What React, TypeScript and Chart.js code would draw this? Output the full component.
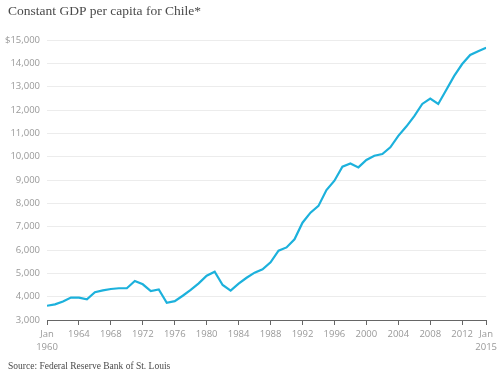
import React, { useEffect, useRef } from "react";
import { Chart, registerables } from "chart.js";

Chart.register(...registerables);

const years: number[] = [
  1960, 1961, 1962, 1963, 1964, 1965, 1966, 1967, 1968, 1969,
  1970, 1971, 1972, 1973, 1974, 1975, 1976, 1977, 1978, 1979,
  1980, 1981, 1982, 1983, 1984, 1985, 1986, 1987, 1988, 1989,
  1990, 1991, 1992, 1993, 1994, 1995, 1996, 1997, 1998, 1999,
  2000, 2001, 2002, 2003, 2004, 2005, 2006, 2007, 2008, 2009,
  2010, 2011, 2012, 2013, 2014, 2015,
];

const gdpPerCapita: number[] = [
  3610, 3670, 3790, 3960, 3960, 3890, 4190, 4270, 4330, 4360,
  4360, 4670, 4530, 4240, 4310, 3740, 3810, 4040, 4290, 4570,
  4900, 5070, 4500, 4260, 4560, 4810, 5030, 5170, 5470, 5970,
  6110, 6460, 7170, 7600, 7890, 8570, 8970, 9570, 9710, 9540,
  9860, 10040, 10110, 10400, 10890, 11290, 11740, 12260, 12490, 12260,
  12860, 13460, 13970, 14360, 14520, 14670,
];

const xTickYears: number[] = [1960, 1964, 1968, 1972, 1976, 1980, 1984, 1988, 1992, 1996, 2000, 2004, 2008, 2012, 2015];
const yTickValues: number[] = [3000, 4000, 5000, 6000, 7000, 8000, 9000, 10000, 11000, 12000, 13000, 14000, 15000];

const titleText = "Constant GDP per capita for Chile*";
const sourceText = "Source: Federal Reserve Bank of St. Louis";

export default function App() {
  const ref = useRef<HTMLCanvasElement | null>(null);

  useEffect(() => {
    if (!ref.current) return;
    const textPlugin = {
      id: "textPlugin",
      afterDraw(chart: any) {
        const ctx = chart.ctx;
        ctx.save();
        ctx.fillStyle = "#4a4a4a";
        ctx.textBaseline = "middle";
        ctx.textAlign = "left";
        ctx.font = "13.5px 'Liberation Serif'";
        ctx.fillText(titleText, 8, 11);
        ctx.fillStyle = "#4a4a4a";
        ctx.font = "9.5px 'Liberation Serif'";
        ctx.fillText(sourceText, 8, 366);
        ctx.restore();
      },
    };
    const chart = new Chart(ref.current, {
      type: "line",
      data: {
        datasets: [
          {
            data: years.map((y, i) => ({ x: y, y: gdpPerCapita[i] })),
            borderColor: "#1cb1dc",
            borderWidth: 2.2,
            pointRadius: 0,
            tension: 0,
            fill: false,
          },
        ],
      },
      options: {
        animation: false,
        responsive: false,
        layout: { padding: { top: 40, right: 13, left: 0, bottom: 0 } },
        plugins: { legend: { display: false }, tooltip: { enabled: false } },
        scales: {
          x: {
            type: "linear",
            min: 1960,
            max: 2015,
            afterBuildTicks(scale: any) {
              scale.ticks = xTickYears.map((v) => ({ value: v }));
            },
            afterFit(scale: any) {
              scale.height = 53;
            },
            ticks: {
              autoSkip: false,
              maxRotation: 0,
              color: "#999",
              font: { family: "'Open Sans'", size: 9.5, lineHeight: 1.35 },
              padding: 3,
              callback: (v: any) => {
                if (v === 1960) return ["Jan", "1960"];
                if (v === 2015) return ["Jan", "2015"];
                return String(v);
              },
            },
            grid: { drawOnChartArea: false, drawTicks: true, tickLength: 5, color: "#666" },
            border: { display: true, color: "#666", width: 1 },
          },
          y: {
            min: 3000,
            max: 15000,
            afterBuildTicks(scale: any) {
              scale.ticks = yTickValues.map((v) => ({ value: v }));
            },
            afterFit(scale: any) {
              scale.width = 47;
            },
            ticks: {
              color: "#999",
              font: { family: "'Open Sans'", size: 9.5 },
              padding: 7,
              callback: (v: any) => (v === 15000 ? "$15,000" : Number(v).toLocaleString("en-US")),
            },
            grid: { color: "#ececec", drawTicks: false },
            border: { display: false },
          },
        },
      },
      plugins: [textPlugin],
    });
    return () => chart.destroy();
  }, []);

  return (
    <div style={{ position: "fixed", left: 0, top: 0, width: 500, height: 373, background: "#fff" }}>
      <canvas ref={ref} width={500} height={373} style={{ width: 500, height: 373, display: "block" }} />
    </div>
  );
}
